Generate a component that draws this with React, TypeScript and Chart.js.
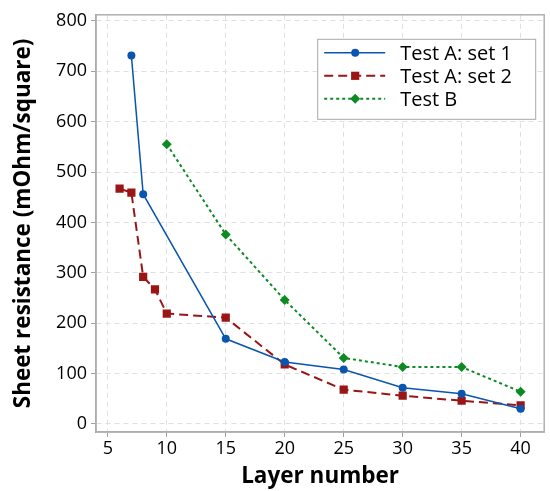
import React, { useEffect, useRef } from "react";
import { Chart, registerables } from "chart.js";

Chart.register(...registerables);

const setA1X = [7, 8, 15, 20, 25, 30, 35, 40];
const setA1Y = [731, 456, 169, 123, 108, 72, 60, 30];
const setA2X = [6, 7, 8, 9, 10, 15, 20, 25, 30, 35, 40];
const setA2Y = [467, 459, 292, 267, 219, 211, 118, 68, 56, 46, 37];
const testBX = [10, 15, 20, 25, 30, 35, 40];
const testBY = [555, 376, 246, 131, 113, 113, 64];
const xTicks = [5, 10, 15, 20, 25, 30, 35, 40];
const yTicks = [0, 100, 200, 300, 400, 500, 600, 700, 800];
const seriesNames = ["Test A: set 1", "Test A: set 2", "Test B"];

const FONT = "'Open Sans', 'Noto Sans', sans-serif";

const insideLegend = {
  id: "insideLegend",
  afterDraw(chart: any) {
    const { ctx, chartArea } = chart;
    const w = 218, h = 80;
    const x0 = chartArea.right - 9 - w;
    const y0 = chartArea.top + 24;
    ctx.save();
    ctx.fillStyle = "#ffffff";
    ctx.fillRect(x0, y0, w, h);
    ctx.strokeStyle = "#a8a8a8";
    ctx.lineWidth = 1;
    ctx.strokeRect(x0 + 0.5, y0 + 0.5, w, h);
    chart.data.datasets.forEach((ds: any, i: number) => {
      const y = y0 + 14 + i * 23;
      ctx.strokeStyle = ds.borderColor;
      ctx.lineWidth = ds.borderWidth;
      ctx.setLineDash(ds.borderDash || []);
      ctx.beginPath();
      ctx.moveTo(x0 + 7, y);
      ctx.lineTo(x0 + 68, y);
      ctx.stroke();
      ctx.setLineDash([]);
      ctx.fillStyle = ds.pointBackgroundColor;
      const cx = x0 + 38;
      const r = ds.pointRadius;
      ctx.beginPath();
      if (ds.pointStyle === "circle") {
        ctx.arc(cx, y, r, 0, Math.PI * 2);
      } else if (ds.pointStyle === "rect") {
        const s = Math.SQRT1_2 * r;
        ctx.rect(cx - s, y - s, 2 * s, 2 * s);
      } else {
        ctx.moveTo(cx, y - r);
        ctx.lineTo(cx + r, y);
        ctx.lineTo(cx, y + r);
        ctx.lineTo(cx - r, y);
        ctx.closePath();
      }
      ctx.fill();
      ctx.fillStyle = "#000";
      ctx.font = `20px ${FONT}`;
      ctx.textBaseline = "middle";
      ctx.textAlign = "left";
      ctx.fillText(ds.label, x0 + 83, y + 1);
    });
    ctx.restore();
  },
};

export default function App() {
  const ref = useRef<HTMLCanvasElement>(null);
  useEffect(() => {
    const mk = (xs: number[], ys: number[]) => xs.map((x, i) => ({ x, y: ys[i] }));
    const gridOpts = {
      color: "#e0e0e0",
      tickColor: "#a0a0a0",
      tickLength: 5,
      tickBorderDash: [],
    } as any;
    const borderOpts = { color: "#a8a8a8", width: 1.5, dash: [5, 4] } as any;
    const chart = new Chart(ref.current!, {
      type: "line",
      data: {
        datasets: [
          {
            label: seriesNames[0],
            data: mk(setA1X, setA1Y),
            borderColor: "#0A56AE",
            backgroundColor: "#0A56AE",
            pointBackgroundColor: "#0A56AE",
            pointBorderWidth: 0,
            borderWidth: 1.5,
            pointStyle: "circle",
            pointRadius: 4,
          },
          {
            label: seriesNames[1],
            data: mk(setA2X, setA2Y),
            borderColor: "#9A1616",
            backgroundColor: "#9A1616",
            pointBackgroundColor: "#9A1616",
            pointBorderWidth: 0,
            borderWidth: 2,
            borderDash: [9, 5],
            pointStyle: "rect",
            pointRadius: 5.8,
          },
          {
            label: seriesNames[2],
            data: mk(testBX, testBY),
            borderColor: "#0E8A22",
            backgroundColor: "#0E8A22",
            pointBackgroundColor: "#0E8A22",
            pointBorderWidth: 0,
            borderWidth: 2,
            borderDash: [3, 3],
            pointStyle: "rectRot",
            pointRadius: 5,
          },
        ] as any,
      },
      options: {
        animation: false,
        responsive: false,
        maintainAspectRatio: false,
        layout: { padding: { top: 12, right: 2, left: 0, bottom: 0 } },
        plugins: { legend: { display: false }, tooltip: { enabled: false } },
        scales: {
          x: {
            type: "linear",
            min: 4,
            max: 42,
            afterBuildTicks: (s: any) => {
              s.ticks = xTicks.map((v) => ({ value: v }));
            },
            afterFit: (s: any) => {
              s.height = 59;
            },
            grid: gridOpts,
            border: borderOpts,
            ticks: {
              color: "#000",
              font: { family: FONT, size: 18 },
              padding: 1,
              maxRotation: 0,
            },
            title: {
              display: true,
              text: "Layer number",
              color: "#000",
              font: { family: FONT, size: 22.5, weight: "bold" },
              padding: { top: 0, bottom: 1 },
            },
          },
          y: {
            type: "linear",
            min: -16,
            max: 812,
            afterBuildTicks: (s: any) => {
              s.ticks = yTicks.map((v) => ({ value: v }));
            },
            afterFit: (s: any) => {
              s.width = 96;
            },
            grid: gridOpts,
            border: borderOpts,
            ticks: {
              color: "#000",
              font: { family: FONT, size: 18 },
              padding: 4,
            },
            title: {
              display: true,
              text: "Sheet resistance (mOhm/square)",
              color: "#000",
              font: { family: FONT, size: 22.5, weight: "bold" },
              padding: { top: 10, bottom: 0 },
            },
          },
        },
      } as any,
      plugins: [
        {
          id: "frame",
          afterDatasetsDraw(chart: any) {
            const { ctx, chartArea: a } = chart;
            ctx.save();
            ctx.strokeStyle = "#b0b0b0";
            ctx.lineWidth = 1.5;
            ctx.strokeRect(a.left, a.top, a.right - a.left, a.bottom - a.top);
            ctx.restore();
          },
        },
        insideLegend,
      ],
    });
    return () => chart.destroy();
  }, []);
  return (
    <div style={{ position: "absolute", left: 0, top: 0, width: 550, height: 491, background: "#fff" }}>
      <canvas ref={ref} width={550} height={491} style={{ display: "block", width: 550, height: 491 }} />
    </div>
  );
}
